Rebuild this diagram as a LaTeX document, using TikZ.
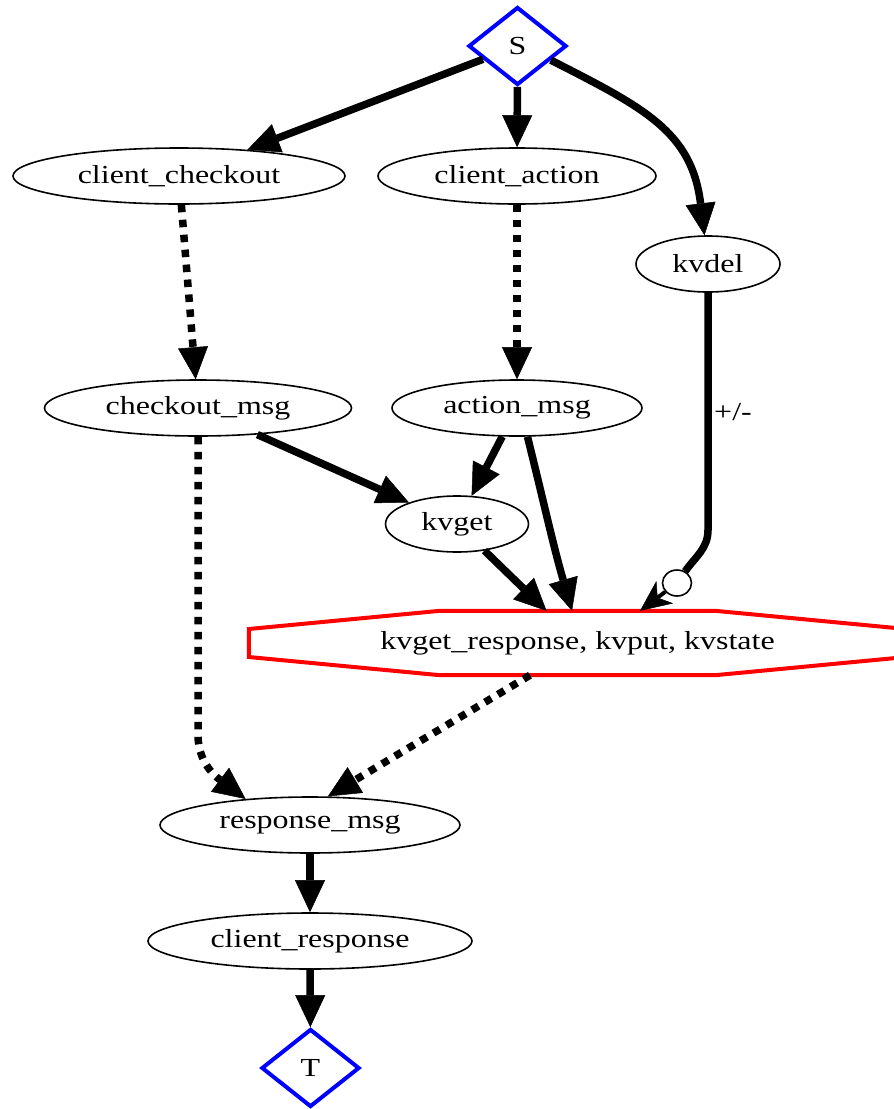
\documentclass[tikz,border=0pt]{standalone}
\usepackage{fontspec}
\setmainfont{Liberation Serif}[FakeStretch=1.23]
\usetikzlibrary{shapes.geometric,arrows.meta,calc}

\begin{document}
\begin{tikzpicture}[x=1pt,y=1pt,
  every node/.style={font=\fontsize{26}{30}\selectfont},
  oval/.style={ellipse, draw, line width=1.6pt, inner sep=0pt, minimum height=56pt},
  term/.style={diamond, draw=blue, line width=4pt, inner sep=0pt,
               minimum width=98pt, minimum height=78pt},
  flow/.style={line width=7.5pt, -{Triangle[length=32pt,width=30pt,line width=0.5pt]}},
  dflow/.style={flow, dash pattern=on 7.5pt off 7.5pt},
  octline/.style={draw=red, line width=4pt, line join=miter},
]
\useasboundingbox (0,0) rectangle (894,-1109);

% nodes
\node[term] (S) at (517.5,-46) {S};
\node[oval, minimum width=332pt] (cc) at (179,-176) {client\_checkout};
\node[oval, minimum width=278pt] (ca) at (517,-176) {client\_action};
\node[oval, minimum width=144pt] (kvdel) at (708,-264) {kvdel};
\node[oval, minimum width=307pt] (cm) at (198,-408) {checkout\_msg};
\node[oval, minimum width=250pt] (am) at (517,-408) {action\_msg};
\node[oval, minimum width=143pt] (kvget) at (457,-524) {kvget};
\node[inner sep=0pt, minimum width=657pt, minimum height=64pt] (kv) at (577.5,-643)
  {kvget\_response, kvput, kvstate};
\node[oval, minimum width=300pt] (rm) at (310,-825) {response\_msg};
\node[oval, minimum width=324pt] (cr) at (310,-941) {client\_response};
\node[term] (T) at (310.5,-1068) {T};

% octagon outline of the state node
\draw[octline] ([yshift=14pt]kv.west) -- ([xshift=-137.5pt]kv.north)
  -- ([xshift=137.5pt]kv.north) -- ([yshift=14pt]kv.east)
  -- ([yshift=-14pt]kv.east) -- ([xshift=137.5pt]kv.south)
  -- ([xshift=-137.5pt]kv.south) -- ([yshift=-14pt]kv.west) -- cycle;

% helper points
\coordinate (amtip) at ([xshift=-5.5pt]kv.north);
\coordinate (kgtip) at ([xshift=-31pt]kv.north);
\coordinate (vtip) at ([xshift=62.5pt]kv.north);
\coordinate (kvout) at ([xshift=-47.5pt]kv.south);
\coordinate (kvbend) at (708,-530);
\coordinate (cmbend) at (198,-735);

% edges from S
\draw[flow] (S) -- (cc);
\draw[flow] (S) -- (ca);
\draw[flow] (S.-23) to[out=-27,in=97,looseness=1.15] (kvdel);

% message edges
\draw[dflow] (cc) -- (cm);
\draw[dflow] (ca) -- (am);
\draw[flow] (cm) -- (kvget);
\draw[flow] (am) -- (kvget);
\draw[flow] (am.-70) to[out=-76,in=106] (amtip);
\draw[flow] (kvget) -- (kgtip);

% kvdel edge with circle and vee head
\node[ellipse, draw, line width=1.6pt, fill=white, inner sep=0pt,
      minimum width=29pt, minimum height=26pt] (circ) at (677,-583) {};
\draw[line width=7.5pt] (kvdel) -- (kvbend) to[out=-90,in=55] (circ);
\draw[line width=4pt, -{Stealth[length=31pt,width=28pt,inset=9pt,line width=0.5pt]}]
  (circ) -- (vtip);
\node (pm) at (733,-412) {+/-};

% responses
\draw[dflow] (cm) -- (cmbend) to[out=-90,in=143] (rm.158);
\draw[dflow] (kvout) -- (rm.58);
\draw[flow] (rm) -- (cr);
\draw[flow] (cr) -- (T);
\end{tikzpicture}
\end{document}
